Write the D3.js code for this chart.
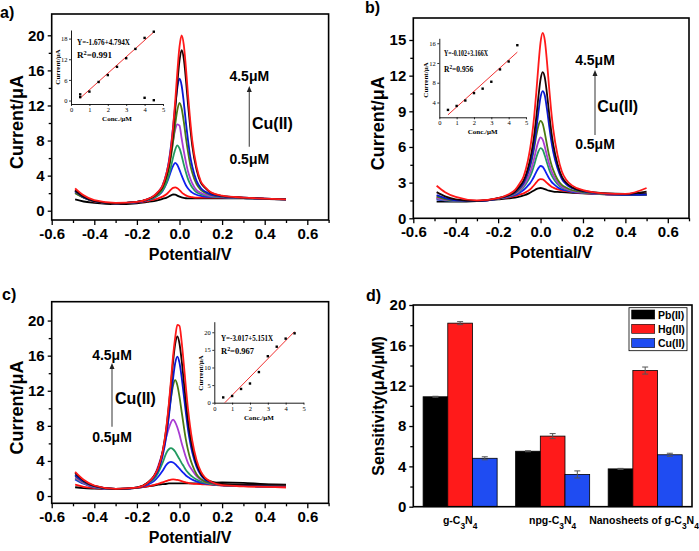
<!DOCTYPE html>
<html>
<head>
<meta charset="utf-8">
<script src="https://cdn.jsdelivr.net/npm/d3@7"></script>
<style>
  body { margin: 0; background: #fff; }
  svg { display: block; }
</style>
</head>
<body>
<div id="chart"></div>
<script>
// ---- data ----
const potential = [-0.49, -0.45, -0.4, -0.3, -0.2, -0.15, -0.12, -0.1, -0.08, -0.06, -0.05, -0.04, -0.03, -0.02, -0.01,
  0, 0.01, 0.02, 0.03, 0.04, 0.05, 0.06, 0.08, 0.1, 0.12, 0.15, 0.2, 0.3, 0.4, 0.5];

const curveColors = ["#000000", "#ff1010", "#1020f0", "#229a60", "#a83cd2", "#4a7a12", "#0a18d0", "#1a0505", "#ff1a1a"];

// panel a) g-C3N4, 0.5 .. 4.5 uM
const a05 = [1.3, 1.05, 0.9, 0.75, 0.85, 1.0, 1.1, 1.2, 1.35, 1.5, 1.62, 1.75, 1.85, 1.82, 1.72, 1.6, 1.52, 1.46, 1.42, 1.4, 1.4, 1.4, 1.4, 1.4, 1.4, 1.4, 1.4, 1.4, 1.35, 1.3];
const a10 = [2.4, 1.55, 1.05, 0.85, 0.95, 1.1, 1.25, 1.4, 1.6, 1.9, 2.15, 2.4, 2.6, 2.65, 2.55, 2.35, 2.1, 1.9, 1.75, 1.65, 1.58, 1.55, 1.5, 1.5, 1.5, 1.5, 1.5, 1.45, 1.35, 1.3];
const a15 = [2.1, 1.5, 1.1, 0.85, 0.95, 1.2, 1.45, 1.75, 2.23, 3.16, 3.8, 4.52, 5.12, 5.45, 5.21, 4.65, 4.02, 3.42, 2.9, 2.54, 2.26, 2.06, 1.82, 1.7, 1.62, 1.58, 1.52, 1.45, 1.35, 1.3];
const a20 = [2.2, 1.5, 1.1, 0.85, 0.98, 1.22, 1.48, 1.78, 2.31, 3.26, 4.04, 5.0, 6.08, 6.98, 7.45, 7.1, 6.3, 5.28, 4.38, 3.6, 3.06, 2.64, 2.1, 1.89, 1.74, 1.62, 1.55, 1.45, 1.35, 1.3];
const a25 = [2.05, 1.5, 1.1, 0.85, 1.0, 1.27, 1.6, 1.98, 2.7, 4.02, 5.12, 6.47, 7.99, 9.26, 9.85, 9.7, 8.26, 6.82, 5.56, 4.46, 3.7, 3.11, 2.35, 2.05, 1.84, 1.67, 1.58, 1.47, 1.36, 1.3];
const a30 = [2.0, 1.5, 1.1, 0.85, 1.0, 1.26, 1.58, 1.95, 2.54, 3.79, 4.76, 6.17, 7.91, 9.86, 11.49, 12.3, 11.65, 10.18, 8.34, 6.71, 5.3, 4.32, 3.02, 2.37, 2.04, 1.77, 1.61, 1.47, 1.36, 1.3];
const a35 = [2.25, 1.55, 1.1, 0.85, 1.0, 1.3, 1.68, 2.12, 2.85, 4.39, 5.62, 7.38, 9.56, 12.0, 14.05, 15.05, 14.28, 12.38, 10.07, 8.03, 6.26, 5.04, 3.4, 2.59, 2.18, 1.84, 1.64, 1.48, 1.37, 1.3];
const a40 = [2.3, 1.6, 1.1, 0.85, 1.0, 1.3, 1.65, 2.09, 2.7, 4.1, 5.11, 6.62, 8.81, 11.51, 14.54, 17.1, 18.3, 17.34, 14.98, 12.12, 9.59, 7.4, 4.7, 3.19, 2.6, 2.0, 1.7, 1.5, 1.38, 1.3];
const a45 = [2.55, 1.75, 1.2, 0.9, 1.0, 1.32, 1.7, 2.17, 2.83, 4.37, 5.48, 7.15, 9.56, 12.53, 15.87, 18.7, 20.0, 18.94, 16.34, 13.19, 10.4, 7.99, 5.02, 3.36, 2.7, 2.06, 1.72, 1.5, 1.38, 1.3];

// panel b) npg-C3N4
const b05 = [1.4, 1.4, 1.4, 1.45, 1.6, 1.68, 1.75, 1.82, 1.92, 2.05, 2.15, 2.25, 2.35, 2.45, 2.52, 2.55, 2.52, 2.45, 2.38, 2.32, 2.28, 2.25, 2.22, 2.2, 2.18, 2.15, 2.1, 2.02, 1.98, 2.1];
const b10 = [1.75, 1.6, 1.5, 1.45, 1.65, 1.77, 1.88, 1.98, 2.1, 2.3, 2.42, 2.6, 2.8, 3.02, 3.22, 3.3, 3.27, 3.15, 2.98, 2.82, 2.68, 2.58, 2.43, 2.35, 2.28, 2.2, 2.12, 2.04, 1.95, 1.98];
const b15 = [1.6, 1.5, 1.46, 1.45, 1.65, 1.81, 1.96, 2.14, 2.38, 2.74, 2.94, 3.21, 3.54, 3.91, 4.22, 4.4, 4.34, 4.05, 3.7, 3.37, 3.11, 2.91, 2.62, 2.44, 2.34, 2.23, 2.14, 2.04, 1.95, 1.98];
const b20 = [1.65, 1.52, 1.47, 1.45, 1.67, 1.84, 2.04, 2.26, 2.61, 3.15, 3.48, 3.93, 4.48, 5.11, 5.63, 5.9, 5.77, 5.28, 4.69, 4.14, 3.69, 3.36, 2.88, 2.59, 2.44, 2.28, 2.17, 2.05, 1.95, 1.97];
const b25 = [1.7, 1.55, 1.48, 1.45, 1.67, 1.87, 2.08, 2.34, 2.74, 3.39, 3.81, 4.36, 5.05, 5.83, 6.47, 6.8, 6.62, 6.02, 5.29, 4.6, 4.04, 3.63, 3.03, 2.68, 2.5, 2.31, 2.18, 2.05, 1.95, 1.97];
const b30 = [1.85, 1.62, 1.5, 1.45, 1.67, 1.9, 2.15, 2.46, 2.95, 3.77, 4.31, 5.03, 5.93, 6.95, 7.79, 8.2, 7.95, 7.17, 6.21, 5.31, 4.59, 4.05, 3.27, 2.82, 2.59, 2.36, 2.21, 2.06, 1.96, 1.98];
const b35 = [1.95, 1.7, 1.52, 1.46, 1.68, 1.92, 2.19, 2.55, 2.99, 3.85, 4.45, 5.21, 6.23, 7.51, 8.95, 10.19, 10.7, 10.33, 9.22, 7.86, 6.59, 5.57, 4.21, 3.32, 2.88, 2.53, 2.27, 2.08, 1.97, 2.0];
const b40 = [2.2, 1.85, 1.6, 1.47, 1.7, 1.95, 2.25, 2.66, 3.16, 4.17, 4.88, 5.79, 7.0, 8.51, 10.23, 11.69, 12.3, 11.85, 10.53, 8.92, 7.4, 6.19, 4.57, 3.53, 3.01, 2.6, 2.3, 2.12, 2.05, 2.25];
const b45 = [2.74, 2.2, 1.8, 1.5, 1.7, 2.02, 2.39, 2.89, 3.52, 4.83, 5.77, 6.97, 8.58, 10.59, 12.87, 14.8, 15.6, 14.98, 13.24, 11.09, 9.08, 7.48, 5.33, 3.96, 3.27, 2.75, 2.37, 2.1, 2.05, 2.55];

// panel c) nanosheets of g-C3N4
const c05 = [1.0, 0.9, 0.85, 0.8, 0.95, 1.1, 1.2, 1.3, 1.35, 1.4, 1.43, 1.45, 1.45, 1.45, 1.45, 1.45, 1.45, 1.45, 1.45, 1.45, 1.45, 1.45, 1.45, 1.47, 1.5, 1.52, 1.55, 1.5, 1.35, 1.3];
const c10 = [1.3, 1.05, 0.9, 0.78, 0.92, 1.1, 1.25, 1.4, 1.55, 1.72, 1.8, 1.87, 1.9, 1.88, 1.84, 1.78, 1.7, 1.62, 1.55, 1.5, 1.45, 1.42, 1.38, 1.35, 1.32, 1.28, 1.2, 1.12, 1.05, 1.0];
const c15 = [1.9, 1.4, 1.0, 0.78, 0.92, 1.3, 1.7, 2.2, 2.85, 3.61, 3.82, 3.9, 3.82, 3.64, 3.38, 3.12, 2.83, 2.6, 2.34, 2.16, 2.0, 1.87, 1.66, 1.52, 1.42, 1.33, 1.23, 1.15, 1.1, 1.05];
const c20 = [2.0, 1.45, 1.02, 0.78, 0.93, 1.42, 1.93, 2.65, 3.74, 4.99, 5.33, 5.45, 5.33, 5.04, 4.62, 4.2, 3.75, 3.38, 2.96, 2.67, 2.42, 2.21, 1.88, 1.65, 1.51, 1.37, 1.24, 1.15, 1.1, 1.05];
const c25 = [2.1, 1.5, 1.05, 0.78, 0.95, 1.45, 2.2, 3.42, 4.95, 6.92, 7.74, 8.4, 8.7, 8.4, 7.81, 7.0, 6.04, 5.22, 4.41, 3.74, 3.3, 2.93, 2.26, 1.86, 1.61, 1.4, 1.24, 1.15, 1.1, 1.05];
const c30 = [2.3, 1.6, 1.1, 0.8, 0.95, 1.48, 2.17, 3.1, 4.82, 7.61, 9.39, 11.18, 12.61, 13.2, 12.61, 11.3, 9.63, 7.96, 6.42, 5.23, 4.28, 3.56, 2.49, 1.95, 1.64, 1.43, 1.24, 1.15, 1.1, 1.05];
const c35 = [2.4, 1.65, 1.12, 0.8, 0.95, 1.44, 2.12, 2.95, 4.46, 7.14, 9.04, 11.23, 13.42, 15.17, 15.9, 15.17, 13.56, 11.52, 9.48, 7.58, 6.12, 4.95, 3.34, 2.4, 1.86, 1.54, 1.26, 1.15, 1.1, 1.05];
const c40 = [2.6, 1.75, 1.15, 0.8, 0.95, 1.51, 2.28, 3.23, 4.97, 8.06, 10.26, 12.79, 15.33, 17.36, 18.2, 17.36, 15.5, 13.13, 10.76, 8.57, 6.88, 5.53, 3.67, 2.57, 1.98, 1.64, 1.37, 1.3, 1.3, 1.28];
const c45 = [2.75, 1.85, 1.2, 0.82, 0.95, 1.5, 2.25, 3.2, 4.95, 8.2, 10.5, 13.2, 16.0, 18.1, 19.5, 19.4, 17.6, 15.1, 12.4, 9.9, 7.9, 6.3, 4.1, 2.8, 2.1, 1.6, 1.23, 1.1, 1.05, 1.0];

const xMajorTicks = [-0.6, -0.4, -0.2, 0, 0.2, 0.4, 0.6];
const xMinorTicks = [-0.5, -0.3, -0.1, 0.1, 0.3, 0.5, 0.7];

// calibration insets
const insetConc = [0.5, 1, 1.5, 2, 2.5, 3, 3.5, 4, 4.5];
const insetA = [1.8, 2.6, 5.4, 7.4, 9.8, 12.3, 15.0, 18.2, 20.0];
const insetAExtraX = [0.5, 4, 4.5];
const insetAExtraY = [1.0, 0.8, 0.1];
const insetB = [2.5, 3.3, 4.4, 5.9, 6.8, 8.2, 10.7, 12.3, 15.6];
const insetC = [1.5, 1.9, 3.9, 5.45, 8.7, 13.2, 15.9, 18.2, 19.7];
const fitAX = [0.5, 4.5], fitAY = [0.72, 19.9];
const fitBX = [0.5, 4.5], fitBY = [1.5, 14.2];
const fitCX = [0.59, 4.5], fitCY = [0, 20.2];

// panel d) sensitivities
const materials = ["g-C3N4", "npg-C3N4", "Nanosheets of g-C3N4"];
const ions = ["Pb(II)", "Hg(II)", "Cu(II)"];
const ionColors = ["#000000", "#ff1a1a", "#1f4cf2"];
const pbSens = [10.9, 5.5, 3.75];
const hgSens = [18.2, 7.0, 13.5];
const cuSens = [4.8, 3.2, 5.15];
const pbErr = [0.05, 0.05, 0.05];
const hgErr = [0.15, 0.25, 0.35];
const cuErr = [0.15, 0.35, 0.15];

// ---- drawing ----
const FONT = "Arial, 'Liberation Sans', sans-serif";
const SERIF = "'Liberation Serif', 'Times New Roman', serif";

const svg = d3.select("#chart").append("svg")
  .attr("width", 699)
  .attr("height", 551);

function styleAxis(g, size) {
  g.select(".domain").remove();
  g.selectAll(".tick line").attr("stroke", "#000").attr("stroke-width", 1.3);
  g.selectAll("text")
    .attr("fill", "#000")
    .style("font-family", FONT)
    .style("font-weight", "bold")
    .style("font-size", size + "px");
}

// text with digits as subscripts (C3N4)
function chemText(sel, str) {
  str.split(/(\d)/).filter(s => s.length).forEach(s => {
    const t = sel.append("tspan").text(s);
    if (/\d/.test(s)) t.attr("baseline-shift", "sub").style("font-size", "0.8em");
  });
}

function drawDPV(p) {
  const g = svg.append("g");
  const x = d3.scaleLinear().domain([-0.6, 0.7]).range([p.left, p.right]);
  const y = d3.scaleLinear().domain(p.yDomain).range([p.bottom, p.top]);

  g.append("g").attr("transform", `translate(0,${p.bottom})`)
    .call(d3.axisBottom(x).tickValues(xMinorTicks).tickSize(3).tickFormat(""))
    .call(a => styleAxis(a, 15));
  g.append("g").attr("transform", `translate(0,${p.bottom})`)
    .call(d3.axisBottom(x).tickValues(xMajorTicks).tickSize(5).tickPadding(3).tickFormat(d => d.toFixed(1)))
    .call(a => styleAxis(a, 15));
  g.append("g").attr("transform", `translate(${p.left},0)`)
    .call(d3.axisLeft(y).tickValues(p.yMinor).tickSize(3).tickFormat(""))
    .call(a => styleAxis(a, 15));
  g.append("g").attr("transform", `translate(${p.left},0)`)
    .call(d3.axisLeft(y).tickValues(p.yMajor).tickSize(4).tickPadding(3))
    .call(a => styleAxis(a, 15));

  const line = d3.line()
    .x((d, i) => x(potential[i]))
    .y(d => y(d))
    .curve(d3.curveMonotoneX);

  g.selectAll(".curve")
    .data(p.curves)
    .join("path")
    .attr("class", "curve")
    .attr("d", d => line(d))
    .attr("fill", "none")
    .attr("stroke", (d, i) => curveColors[i])
    .attr("stroke-width", 1.8);

  g.append("rect")
    .attr("x", p.left).attr("y", p.top)
    .attr("width", p.right - p.left).attr("height", p.bottom - p.top)
    .attr("fill", "none").attr("stroke", "#000").attr("stroke-width", 1.6);

  // axis titles
  g.append("text")
    .attr("x", (p.left + p.right) / 2).attr("y", p.bottom + 40)
    .attr("text-anchor", "middle")
    .style("font-family", FONT).style("font-weight", "bold").style("font-size", "16px")
    .text("Potential/V");
  g.append("text")
    .attr("transform", `translate(${p.left - 29},${(p.top + p.bottom) / 2 + 5}) rotate(-90)`)
    .attr("text-anchor", "middle")
    .style("font-family", FONT).style("font-weight", "bold").style("font-size", "18px")
    .text("Current/μA");

  // panel letter
  g.append("text").attr("x", p.tagX).attr("y", p.tagY)
    .style("font-family", FONT).style("font-weight", "bold").style("font-size", "16px")
    .text(p.tag);

  // concentration arrow
  const ar = p.arrow;
  g.append("line")
    .attr("x1", ar.x).attr("x2", ar.x).attr("y1", ar.y1).attr("y2", ar.y2 + 4)
    .attr("stroke", "#555").attr("stroke-width", 1.2);
  g.append("path")
    .attr("d", `M${ar.x - 2.5},${ar.y2 + 6} L${ar.x},${ar.y2} L${ar.x + 2.5},${ar.y2 + 6} Z`)
    .attr("fill", "#222");
  const lab = (tx, ty, txt, size, anchor) => g.append("text")
    .attr("x", tx).attr("y", ty).attr("text-anchor", anchor)
    .style("font-family", FONT).style("font-weight", "bold").style("font-size", size + "px")
    .text(txt);
  lab(ar.x, ar.topY, "4.5μM", 14, "middle");
  lab(ar.x, ar.botY, "0.5μM", 14, "middle");
  lab(ar.cuX, ar.cuY, "Cu(II)", 16, "start");

  drawInset(p.inset);
}

function drawInset(q) {
  const g = svg.append("g");
  const x = d3.scaleLinear().domain([0, 5]).range([q.left, q.right]);
  const y = d3.scaleLinear().domain(q.yDomain).range([q.bottom, q.top]);

  const styleInset = a => {
    a.select(".domain").attr("stroke", "#000").attr("stroke-width", 0.9);
    a.selectAll(".tick line").attr("stroke", "#000").attr("stroke-width", 0.8);
    a.selectAll("text").attr("fill", "#000")
      .style("font-family", SERIF).style("font-size", "6.5px");
  };
  g.append("g").attr("transform", `translate(0,${q.bottom})`)
    .call(d3.axisBottom(x).tickValues([0, 1, 2, 3, 4, 5]).tickFormat(d3.format("d"))
      .tickSize(2).tickSizeOuter(0).tickPadding(1.5))
    .call(styleInset);
  g.append("g").attr("transform", `translate(${q.left},0)`)
    .call(d3.axisLeft(y).tickValues(q.yTicks).tickFormat(d3.format("d"))
      .tickSize(2).tickSizeOuter(0).tickPadding(1.5))
    .call(styleInset);

  g.append("line")
    .attr("x1", x(q.fitX[0])).attr("y1", y(q.fitY[0]))
    .attr("x2", x(q.fitX[1])).attr("y2", y(q.fitY[1]))
    .attr("stroke", "#f03030").attr("stroke-width", 1);

  const pts = q.values.map((v, i) => [q.conc[i], v]).concat(q.extraX.map((v, i) => [v, q.extraY[i]]));
  g.selectAll(".pt").data(pts).join("rect")
    .attr("class", "pt")
    .attr("x", d => x(d[0]) - 1.2).attr("y", d => y(d[1]) - 1.2)
    .attr("width", 2.4).attr("height", 2.4).attr("fill", "#000");

  g.append("text").attr("x", q.eqX).attr("y", q.eqY)
    .attr("textLength", q.eqW).attr("lengthAdjust", "spacingAndGlyphs")
    .style("font-family", SERIF).style("font-weight", "bold").style("font-size", q.eqSize + "px")
    .text(q.eq);
  const r2 = g.append("text").attr("x", q.eqX).attr("y", q.eqY + q.r2Gap)
    .style("font-family", SERIF).style("font-weight", "bold").style("font-size", q.eqSize + "px");
  r2.append("tspan").text("R");
  r2.append("tspan").attr("baseline-shift", "super").style("font-size", "0.7em").text("2");
  r2.append("tspan").attr("baseline-shift", "0").text("=" + q.r2);

  g.append("text")
    .attr("transform", `translate(${q.yTitleX},${q.yTitleY}) rotate(-90)`)
    .attr("text-anchor", "middle")
    .style("font-family", SERIF).style("font-weight", "bold").style("font-size", "7px")
    .text("Current/μA");
  g.append("text")
    .attr("x", (q.left + q.right) / 2).attr("y", q.bottom + 17)
    .attr("text-anchor", "middle")
    .style("font-family", SERIF).style("font-weight", "bold").style("font-size", "7px")
    .text("Conc./μM");
}

drawDPV({
  tag: "a)", tagX: 0, tagY: 18,
  left: 51.7, right: 328.6, top: 14, bottom: 220,
  yDomain: [-1.06, 22.43], yMajor: [0, 4, 8, 12, 16, 20], yMinor: [2, 6, 10, 14, 18],
  curves: [a05, a10, a15, a20, a25, a30, a35, a40, a45],
  arrow: { x: 249.3, y1: 146.7, y2: 86, topY: 81, botY: 164, cuX: 252, cuY: 129 },
  inset: {
    left: 71, right: 163, top: 30, bottom: 104, yDomain: [-1, 20.5], yTicks: [0, 6, 12, 18],
    conc: insetConc, values: insetA, extraX: insetAExtraX, extraY: insetAExtraY,
    fitX: fitAX, fitY: fitAY, eq: "Y=-1.676+4.794X", r2: "0.991",
    eqX: 77, eqY: 45, eqW: 53, eqSize: 9, r2Gap: 13, yTitleX: 60, yTitleY: 67
  }
});

drawDPV({
  tag: "b)", tagX: 365, tagY: 13,
  left: 413.3, right: 689, top: 18, bottom: 218.3,
  yDomain: [0, 16.85], yMajor: [0, 3, 6, 9, 12, 15], yMinor: [1.5, 4.5, 7.5, 10.5, 13.5],
  curves: [b05, b10, b15, b20, b25, b30, b35, b40, b45],
  arrow: { x: 595, y1: 135, y2: 70, topY: 64.5, botY: 148.5, cuX: 597.3, cuY: 112 },
  inset: {
    left: 439.3, right: 526, top: 38.3, bottom: 117.3, yDomain: [1, 17], yTicks: [4, 8, 12, 16],
    conc: insetConc, values: insetB, extraX: [], extraY: [],
    fitX: fitBX, fitY: fitBY, eq: "Y=-0.102+3.166X", r2: "0.956",
    eqX: 444, eqY: 56, eqW: 44, eqSize: 7.5, r2Gap: 16, yTitleX: 428, yTitleY: 80
  }
});

drawDPV({
  tag: "c)", tagX: 2, tagY: 300,
  left: 51.7, right: 328.6, top: 301.7, bottom: 503.3,
  yDomain: [-0.83, 22.15], yMajor: [0, 4, 8, 12, 16, 20], yMinor: [2, 6, 10, 14, 18],
  curves: [c05, c10, c15, c20, c25, c30, c35, c40, c45],
  arrow: { x: 112, y1: 426.7, y2: 363, topY: 360, botY: 442, cuX: 115, cuY: 404 },
  inset: {
    left: 214.3, right: 303.5, top: 321.7, bottom: 402.7, yDomain: [0, 23], yTicks: [0, 5, 10, 15, 20],
    conc: insetConc, values: insetC, extraX: [], extraY: [],
    fitX: fitCX, fitY: fitCY, eq: "Y=-3.017+5.151X", r2: "0.967",
    eqX: 221, eqY: 340.5, eqW: 52, eqSize: 8.5, r2Gap: 13.5, yTitleX: 203, yTitleY: 373
  }
});

// panel d) grouped bars
(function drawBars() {
  const left = 413.3, right = 692, top = 305, bottom = 506.7;
  const g = svg.append("g");
  const x0 = d3.scaleBand().domain(materials).range([left, right]).paddingInner(0.2).paddingOuter(0.106);
  const x1 = d3.scaleBand().domain(ions).range([0, x0.bandwidth()]);
  const y = d3.scaleLinear().domain([0, 20]).range([bottom, top]);
  const sens = [pbSens, hgSens, cuSens];
  const errs = [pbErr, hgErr, cuErr];

  g.append("g").attr("transform", `translate(${left},0)`)
    .call(d3.axisLeft(y).tickValues([2, 6, 10, 14, 18]).tickSize(3).tickFormat(""))
    .call(a => styleAxis(a, 15));
  g.append("g").attr("transform", `translate(${left},0)`)
    .call(d3.axisLeft(y).tickValues([0, 4, 8, 12, 16, 20]).tickSize(4).tickPadding(3))
    .call(a => styleAxis(a, 15));

  materials.forEach((m, i) => {
    ions.forEach((ion, j) => {
      const bx = x0(m) + x1(ion);
      const v = sens[j][i];
      g.append("rect")
        .attr("x", bx).attr("y", y(v))
        .attr("width", x1.bandwidth()).attr("height", y(0) - y(v))
        .attr("fill", ionColors[j]).attr("stroke", "#000").attr("stroke-width", 0.8);
      const cx = bx + x1.bandwidth() / 2;
      const e = errs[j][i];
      g.append("path")
        .attr("d", `M${cx},${y(v - e)}V${y(v + e)}M${cx - 3},${y(v - e)}H${cx + 3}M${cx - 3},${y(v + e)}H${cx + 3}`)
        .attr("stroke", "#555").attr("stroke-width", 1).attr("fill", "none");
    });
    const t = g.append("text")
      .attr("x", Math.min(x0(m) + x0.bandwidth() / 2, 644)).attr("y", bottom + 17)
      .attr("text-anchor", "middle")
      .style("font-family", FONT).style("font-weight", "bold").style("font-size", "10.5px");
    chemText(t, m);
  });

  g.append("rect")
    .attr("x", left).attr("y", top).attr("width", right - left).attr("height", bottom - top)
    .attr("fill", "none").attr("stroke", "#000").attr("stroke-width", 1.6);

  // legend
  const lg = g.append("g");
  lg.append("rect").attr("x", 629).attr("y", 307.7).attr("width", 58).attr("height", 43)
    .attr("fill", "#fff").attr("stroke", "#000").attr("stroke-width", 0.8);
  ions.forEach((ion, j) => {
    const cy = 314.5 + j * 14.3;
    lg.append("rect").attr("x", 631.7).attr("y", cy - 4.5).attr("width", 23).attr("height", 9)
      .attr("fill", ionColors[j]).attr("stroke", "#000").attr("stroke-width", 0.6);
    lg.append("text").attr("x", 658).attr("y", cy + 4)
      .style("font-family", FONT).style("font-weight", "bold").style("font-size", "10.5px")
      .text(ion);
  });

  g.append("text")
    .attr("transform", `translate(384,${(top + bottom) / 2}) rotate(-90)`)
    .attr("text-anchor", "middle")
    .style("font-family", FONT).style("font-weight", "bold").style("font-size", "16px")
    .text("Sensitivity(μA/μM)");

  g.append("text").attr("x", 366).attr("y", 301)
    .style("font-family", FONT).style("font-weight", "bold").style("font-size", "16px")
    .text("d)");
})();
</script>
</body>
</html>
